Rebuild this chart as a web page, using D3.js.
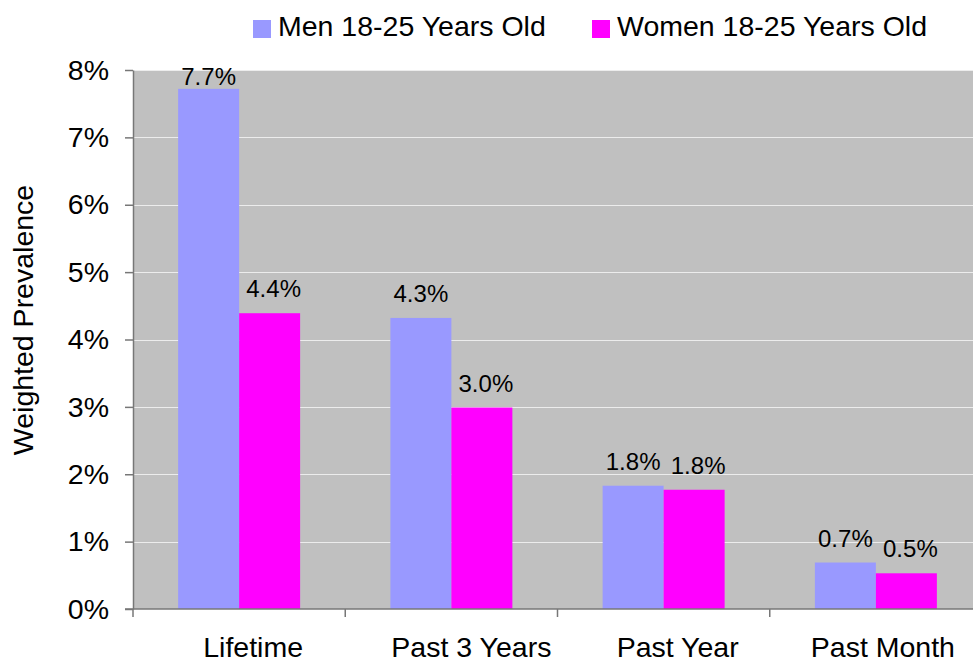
<!DOCTYPE html>
<html>
<head>
<meta charset="utf-8">
<script src="https://cdn.jsdelivr.net/npm/d3@7"></script>
<style>
  body { margin: 0; background: #fff; }
  text { font-family: "Liberation Sans", Arial, sans-serif; fill: #000; }
  .axis path, .axis line { stroke: #777; stroke-width: 1.5; }
  .axis text { font-size: 28.5px; }
</style>
</head>
<body>
<div id="chart"></div>
<script>
// data
var categories = ["Lifetime", "Past 3 Years", "Past Year", "Past Month"];
var seriesNames = ["Men 18-25 Years Old", "Women 18-25 Years Old"];
var menValues = [0.0772, 0.0432, 0.0183, 0.0069];
var womenValues = [0.0439, 0.0299, 0.0177, 0.0053];
var yTicks = [0, 0.01, 0.02, 0.03, 0.04, 0.05, 0.06, 0.07, 0.08];
var colors = ["#9999FF", "#FF00FF"];

var width = 973;
var height = 664;
var plot = { left: 133, top: 70, right: 982, bottom: 609 };
var labelShift = [14, 20, 14, 7];

var svg = d3.select("#chart")
    .append("svg")
    .attr("width", width)
    .attr("height", height);

var x = d3.scaleBand()
    .domain(categories)
    .range([plot.left, plot.right])
    .paddingInner(0)
    .paddingOuter(0);

var xSub = d3.scaleBand()
    .domain(seriesNames)
    .range([0, x.bandwidth()])
    .paddingInner(0)
    .paddingOuter(0.74);

var y = d3.scaleLinear()
    .domain([0, 0.08])
    .range([plot.bottom, plot.top]);

// plot background
svg.append("rect")
    .attr("x", plot.left)
    .attr("y", plot.top)
    .attr("width", plot.right - plot.left)
    .attr("height", plot.bottom - plot.top)
    .attr("fill", "#C0C0C0");

// gridlines
svg.append("g")
    .selectAll("line")
    .data(yTicks.slice(1))
    .enter()
    .append("line")
    .attr("x1", plot.left)
    .attr("x2", plot.right)
    .attr("y1", function (d) { return Math.round(y(d)) + 0.5; })
    .attr("y2", function (d) { return Math.round(y(d)) + 0.5; })
    .attr("stroke", "#ECECEC")
    .attr("stroke-width", 1.2);

var rows = categories.map(function (c, i) {
    return { cat: c, values: [menValues[i], womenValues[i]] };
});

var groups = svg.selectAll(".cat")
    .data(rows)
    .enter()
    .append("g")
    .attr("class", "cat")
    .attr("transform", function (d) {
        return "translate(" + x(d.cat) + ",0)";
    });

var bars = groups.selectAll("g.bar")
    .data(function (d) {
        return d.values.map(function (v, j) {
            return { name: seriesNames[j], value: v, j: j };
        });
    })
    .enter()
    .append("g")
    .attr("class", "bar");

bars.append("rect")
    .attr("x", function (d) { return xSub(d.name); })
    .attr("y", function (d) { return y(d.value); })
    .attr("width", xSub.bandwidth())
    .attr("height", function (d) { return y(0) - y(d.value); })
    .attr("fill", function (d) { return colors[d.j]; });

bars.append("text")
    .attr("x", function (d) { return xSub(d.name) + xSub.bandwidth() / 2 + (d.j === 1 ? 4 : 0); })
    .attr("y", function (d) { return Math.max(y(d.value) - 16, 85); })
    .attr("text-anchor", "middle")
    .style("font-size", "24px")
    .text(function (d) { return d3.format(".1%")(d.value); });

// y axis
var yAxis = d3.axisLeft(y)
    .tickValues(yTicks)
    .tickFormat(d3.format(".0%"))
    .tickSize(8)
    .tickPadding(16)
    .tickSizeOuter(0);

svg.append("g")
    .attr("class", "axis")
    .attr("transform", "translate(" + plot.left + ",0)")
    .call(yAxis);

// x axis, ticks between categories
var xAxis = d3.axisBottom(x)
    .tickSize(0)
    .tickPadding(28)
    .tickSizeOuter(0);

var gx = svg.append("g")
    .attr("class", "axis")
    .attr("transform", "translate(0," + plot.bottom + ")")
    .call(xAxis);

gx.select(".domain").attr("d", "M" + (plot.left - 8) + ",0H" + plot.right);
gx.selectAll(".tick text").attr("dx", function (d, i) { return labelShift[i]; });

gx.selectAll(".sep")
    .data(categories)
    .enter()
    .append("line")
    .attr("class", "sep")
    .attr("x1", function (d) { return x(d); })
    .attr("x2", function (d) { return x(d); })
    .attr("y1", 0)
    .attr("y2", 8);

// y axis title
svg.append("text")
    .attr("transform", "translate(33,320) rotate(-90)")
    .attr("text-anchor", "middle")
    .style("font-size", "28.5px")
    .text("Weighted Prevalence");

// legend
var legendX = [253, 592];
var legend = svg.selectAll(".legend")
    .data(seriesNames)
    .enter()
    .append("g")
    .attr("class", "legend")
    .attr("transform", function (d, i) {
        return "translate(" + legendX[i] + ",0)";
    });

legend.append("rect")
    .attr("x", 0)
    .attr("y", 20)
    .attr("width", 18)
    .attr("height", 18)
    .attr("fill", function (d, i) { return colors[i]; });

legend.append("text")
    .attr("x", 25)
    .attr("y", 36)
    .style("font-size", "28.5px")
    .text(function (d) { return d; });
</script>
</body>
</html>
